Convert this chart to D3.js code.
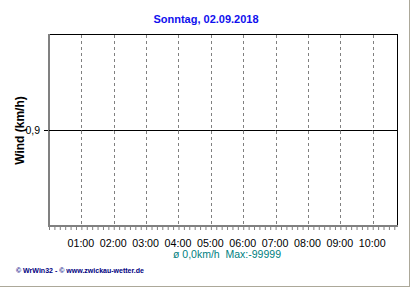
<!DOCTYPE html>
<html>
<head>
<meta charset="utf-8">
<script src="https://cdn.jsdelivr.net/npm/d3@7/dist/d3.min.js"></script>
<style>
  body { margin: 0; background: #fff; }
  svg { display: block; font-family: Arial, "Liberation Sans", sans-serif; }
  text { white-space: pre; }
</style>
</head>
<body>
<svg id="chart" width="410" height="287"></svg>
<script>
// Wind chart -- WsWin style day graph

var title = "Sonntag, 02.09.2018";
var yLabel = "Wind (km/h)";
var summary = "ø 0,0km/h  Max:-99999";
var footer = "© WrWin32 - © www.zwickau-wetter.de";

// hour ticks along the bottom
var hourTicks = [1, 2, 3, 4, 5, 6, 7, 8, 9, 10];
var hourLabels = ["01:00", "02:00", "03:00", "04:00", "05:00", "06:00", "07:00", "08:00", "09:00", "10:00"];

// y axis has a single tick
var yTicks = [0.9];
var yTickLabels = ["0,9"];

// the series (flat line)
var times = [0, 1, 2, 3, 4, 5, 6, 7, 8, 9, 10, 10.75];
var wind = [0.9, 0.9, 0.9, 0.9, 0.9, 0.9, 0.9, 0.9, 0.9, 0.9, 0.9, 0.9];

var svg = d3.select("#chart");

// NB: "top" is taken by window.top, so use plot* names
var plotLeft = 49, plotRight = 397, plotTop = 34, plotBottom = 226;

var x = d3.scaleLinear().domain([0, 10.75]).range([plotLeft, plotRight]);
var y = d3.scaleLinear().domain([0, 1.8]).range([plotBottom, plotTop]);

///////////////////////////////////////////////////////////////////////////////
// outer frame (grey bottom/right edge)

svg.append("line")
  .attr("x1", 0).attr("x2", 410).attr("y1", 286.5).attr("y2", 286.5)
  .attr("stroke", "#aca899");
svg.append("line")
  .attr("x1", 409.5).attr("x2", 409.5).attr("y1", 0).attr("y2", 287)
  .attr("stroke", "#aca899");

// title
svg.append("text")
  .attr("x", 206).attr("y", 23)
  .attr("text-anchor", "middle")
  .attr("font-size", "11px").attr("font-weight", "bold")
  .attr("fill", "#1010ee")
  .text(title);

///////////////////////////////////////////////////////////////////////////////
// dashed hour grid

svg.append("g").selectAll("line")
  .data(hourTicks)
  .enter().append("line")
  .attr("x1", function (d) { return Math.round(x(d)) + 0.5; })
  .attr("x2", function (d) { return Math.round(x(d)) + 0.5; })
  .attr("y1", plotTop + 1).attr("y2", plotBottom)
  .attr("stroke", "#808080")
  .attr("stroke-dasharray", "3,3");

// minor ticks every 10 minutes below the axis
var minor = d3.range(0, 10.75, 1 / 6);
var minorAxis = d3.axisBottom(x).tickValues(minor).tickSize(3).tickFormat("");
var gMinor = svg.append("g")
  .attr("transform", "translate(0," + (plotBottom + 1) + ")")
  .call(minorAxis);
gMinor.select(".domain").remove();
gMinor.selectAll("line").attr("stroke", "#808080");

// hour labels
var labelAxis = d3.axisBottom(x).tickValues(hourTicks).tickSize(0)
  .tickFormat(function (d, i) { return hourLabels[i]; });
var gLabels = svg.append("g")
  .attr("transform", "translate(-1," + 236 + ")")
  .call(labelAxis);
gLabels.select(".domain").remove();
gLabels.selectAll("text")
  .attr("font-family", "Arial, 'Liberation Sans', sans-serif")
  .attr("font-size", "10.7px")
  .attr("fill", "#000");

// y tick
var yAxis = d3.axisLeft(y).tickValues(yTicks).tickSize(4).tickPadding(4)
  .tickFormat(function (d, i) { return yTickLabels[i]; });
var gY = svg.append("g")
  .attr("transform", "translate(" + (plotLeft - 1) + ",0)")
  .call(yAxis);
gY.select(".domain").remove();
gY.selectAll("line").attr("stroke", "#000");
gY.selectAll("text")
  .attr("font-family", "Arial, 'Liberation Sans', sans-serif")
  .attr("font-size", "10.5px")
  .attr("fill", "#000");

///////////////////////////////////////////////////////////////////////////////
// plot frame: grey left/bottom, black top/right

svg.append("line")
  .attr("x1", plotLeft + 1).attr("x2", plotRight).attr("y1", plotTop + 0.5).attr("y2", plotTop + 0.5)
  .attr("stroke", "#000");
svg.append("line")
  .attr("x1", plotRight + 0.5).attr("x2", plotRight + 0.5).attr("y1", plotTop).attr("y2", plotBottom + 1)
  .attr("stroke", "#000");
svg.append("rect")
  .attr("x", plotLeft - 1).attr("y", plotTop).attr("width", 2).attr("height", plotBottom - plotTop + 1)
  .attr("fill", "#808080");
svg.append("rect")
  .attr("x", plotLeft - 1).attr("y", plotBottom - 1).attr("width", plotRight - plotLeft + 2).attr("height", 2)
  .attr("fill", "#808080");

// the wind line
var line = d3.line()
  .x(function (d, i) { return x(times[i]); })
  .y(function (d) { return Math.round(y(d)) + 0.5; });

svg.append("path")
  .datum(wind)
  .attr("d", line)
  .attr("fill", "none")
  .attr("stroke", "#000")
  .attr("stroke-width", 1);

// rotated y label
svg.append("text")
  .attr("transform", "translate(24,130.5) rotate(-90)")
  .attr("text-anchor", "middle")
  .attr("font-size", "12px").attr("font-weight", "bold")
  .attr("fill", "#000")
  .text(yLabel);

// summary line
svg.append("text")
  .attr("x", 227).attr("y", 258)
  .attr("text-anchor", "middle")
  .attr("font-size", "10.5px")
  .attr("fill", "#008080")
  .text(summary);

// footer
svg.append("text")
  .attr("x", 16).attr("y", 273)
  .attr("font-size", "7px").attr("font-weight", "bold")
  .attr("textLength", 128).attr("lengthAdjust", "spacingAndGlyphs")
  .attr("fill", "#000080")
  .text(footer);
</script>
</body>
</html>
